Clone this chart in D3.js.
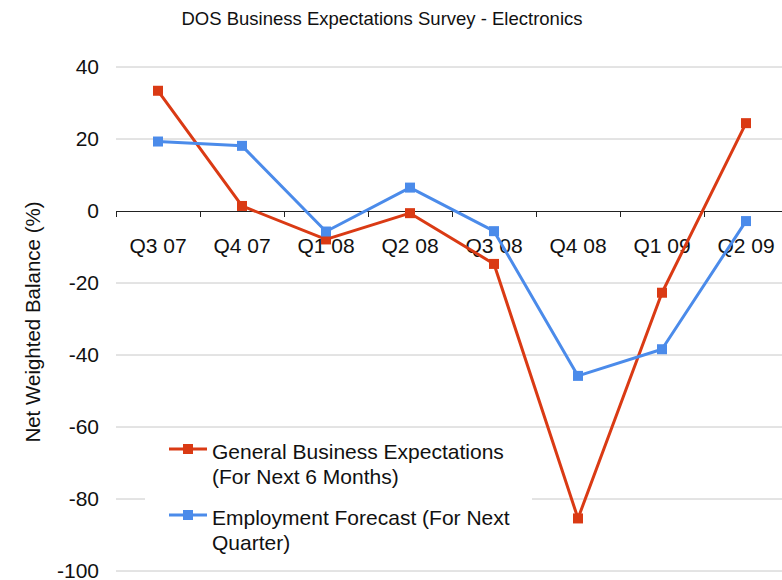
<!DOCTYPE html>
<html>
<head>
<meta charset="utf-8">
<script src="https://cdn.jsdelivr.net/npm/d3@7"></script>
<style>
  html, body { margin: 0; padding: 0; background: #fff; }
  svg { display: block; font-family: "Liberation Sans", Arial, sans-serif; }
</style>
</head>
<body>
<svg id="chart" width="782" height="580"></svg>
<script>
const categories = ["Q3 07", "Q4 07", "Q1 08", "Q2 08", "Q3 08", "Q4 08", "Q1 09", "Q2 09"];
const generalBusiness = [33.4, 1.4, -7.9, -0.6, -14.7, -85.4, -22.7, 24.4];
const employmentForecast = [19.3, 18.1, -5.7, 6.5, -5.6, -45.8, -38.4, -2.8];
const yTicks = [40, 20, 0, -20, -40, -60, -80, -100];
const seriesNames = [["General Business Expectations", "(For Next 6 Months)"], ["Employment Forecast (For Next", "Quarter)"]];
const seriesColors = ["#da3a14", "#4b8bea"];

const svg = d3.select("#chart");
const W = 782, H = 580;
const left = 116, right = 788;

const x = d3.scaleBand().domain(categories).range([left, right]);
const y = d3.scaleLinear().domain([-100, 40]).range([571, 67]);

// title
svg.append("text")
  .attr("x", 382).attr("y", 25)
  .attr("text-anchor", "middle")
  .attr("font-size", 18.5)
  .attr("fill", "#111")
  .text("DOS Business Expectations Survey - Electronics");

// gridlines
svg.append("g").selectAll("line")
  .data(yTicks.filter(d => d !== 0))
  .join("line")
  .attr("x1", left).attr("x2", W)
  .attr("y1", d => y(d)).attr("y2", d => y(d))
  .attr("stroke", "#c8c8c8").attr("stroke-width", 1);

// y axis labels
const yAxis = svg.append("g")
  .attr("transform", `translate(${left},0)`)
  .call(d3.axisLeft(y).tickValues(yTicks).tickSize(0).tickPadding(17).tickFormat(d => String(d)));
yAxis.select(".domain").remove();
yAxis.selectAll("text").attr("font-size", 21).attr("fill", "#111").attr("font-family", "Liberation Sans, Arial, sans-serif");

// y axis title
svg.append("text")
  .attr("transform", "translate(40,322) rotate(-90)")
  .attr("text-anchor", "middle")
  .attr("font-size", 20.5)
  .attr("fill", "#111")
  .text("Net Weighted Balance (%)");

// x axis at zero
const xAxis = svg.append("g")
  .attr("transform", `translate(0,${y(0)})`)
  .call(d3.axisBottom(x).tickSize(0).tickPadding(27));
xAxis.select(".domain").attr("stroke", "#222");
xAxis.selectAll("text").attr("font-size", 21).attr("fill", "#111").attr("font-family", "Liberation Sans, Arial, sans-serif");
const boundaries = categories.map(c => x(c)).concat([x.range()[1]]);
svg.append("g").selectAll("line")
  .data(boundaries)
  .join("line")
  .attr("x1", d => d + 0.5).attr("x2", d => d + 0.5)
  .attr("y1", y(0)).attr("y2", y(0) + 6)
  .attr("stroke", "#222");

const cx = c => x(c) + x.bandwidth() / 2;
const line = d3.line().x((d, i) => cx(categories[i])).y(d => y(d));

[generalBusiness, employmentForecast].forEach((vals, s) => {
  const g = svg.append("g");
  g.append("path")
    .attr("d", line(vals))
    .attr("fill", "none")
    .attr("stroke", seriesColors[s])
    .attr("stroke-width", 3)
    .attr("stroke-linejoin", "round");
  g.selectAll("rect")
    .data(vals)
    .join("rect")
    .attr("x", (d, i) => cx(categories[i]) - 5)
    .attr("y", d => y(d) - 5)
    .attr("width", 10).attr("height", 10)
    .attr("fill", seriesColors[s]);
});

// legend
const legend = svg.append("g");
legend.append("rect")
  .attr("x", 145).attr("y", 432).attr("width", 387).attr("height", 132)
  .attr("fill", "#fff");
seriesNames.forEach((lines, s) => {
  const my = 449 + s * 66;
  legend.append("line")
    .attr("x1", 169).attr("x2", 207).attr("y1", my).attr("y2", my)
    .attr("stroke", seriesColors[s]).attr("stroke-width", 3);
  legend.append("rect")
    .attr("x", 183).attr("y", my - 5).attr("width", 10).attr("height", 10)
    .attr("fill", seriesColors[s]);
  lines.forEach((t, k) => {
    legend.append("text")
      .attr("x", 212).attr("y", my + 10 + k * 25)
      .attr("font-size", 21)
      .attr("fill", "#111")
      .text(t);
  });
});
</script>
</body>
</html>
